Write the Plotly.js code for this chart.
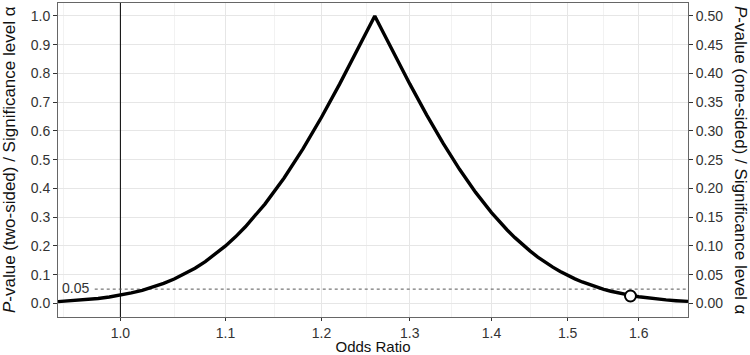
<!DOCTYPE html>
<html>
<head>
<meta charset="utf-8">
<script src="https://cdn.plot.ly/plotly-3.0.1.min.js"></script>
<style>
  html, body { margin: 0; padding: 0; background: #fff; }
  #chart { width: 750px; height: 355px; }
</style>
</head>
<body>
<div id="chart"></div>
<script>
'use strict';

// p-value function
const oddsRatio = [0.945, 0.96, 0.97, 0.98, 0.99, 1.00, 1.01, 1.02, 1.03, 1.04, 1.05, 1.06,
  1.07, 1.08, 1.09, 1.10, 1.11, 1.12, 1.14, 1.16, 1.18, 1.20, 1.22, 1.24, 1.25, 1.2594,
  1.27, 1.28, 1.30, 1.32, 1.34, 1.36, 1.38, 1.40, 1.41, 1.42, 1.43, 1.44, 1.45, 1.46,
  1.47, 1.48, 1.49, 1.50, 1.51, 1.52, 1.53, 1.54, 1.55, 1.56, 1.57, 1.58, 1.59, 1.60,
  1.61, 1.62, 1.63, 1.64, 1.655, 1.673];
const pTwoSided = [0.0065, 0.0102, 0.0134, 0.0175, 0.0227, 0.029, 0.0366, 0.0459, 0.0569,
  0.0699, 0.0851, 0.1027, 0.1227, 0.1457, 0.1713, 0.2002, 0.2318, 0.2668, 0.3457, 0.4364,
  0.5376, 0.6476, 0.7637, 0.8834, 0.9425, 1.0, 0.9375, 0.8776, 0.7636, 0.656, 0.5567,
  0.4666, 0.3863, 0.3161, 0.2848, 0.2556, 0.229, 0.2043, 0.182, 0.1615, 0.1431, 0.1263,
  0.1113, 0.0977, 0.0857, 0.0749, 0.0653, 0.0568, 0.0493, 0.0426, 0.0368, 0.0317,
  0.0273, 0.0234, 0.02, 0.0171, 0.0146, 0.0124, 0.0097, 0.0072];

const pointOR = [1.588];
const pointP = [0.026];

const alphaLevel = 0.05;
const nullOR = 1.0;

const xTicks = [1.0, 1.1, 1.2, 1.3, 1.4, 1.5, 1.6];
const xMinor = [0.95, 1.05, 1.15, 1.25, 1.35, 1.45, 1.55, 1.65];
const yTicks = [0, 0.1, 0.2, 0.3, 0.4, 0.5, 0.6, 0.7, 0.8, 0.9, 1.0];
const y2Ticks = [0, 0.05, 0.10, 0.15, 0.20, 0.25, 0.30, 0.35, 0.40, 0.45, 0.50];

const font = 'Liberation Sans, Arial, sans-serif';
const tickCol = '#333333';

const traces = [
  {
    x: [nullOR, nullOR], y: [-0.2, 1.2],
    mode: 'lines', line: {color: '#000', width: 1},
    hoverinfo: 'skip', showlegend: false
  },
  {
    x: [0.977, 1.8], y: [alphaLevel, alphaLevel],
    mode: 'lines', line: {color: '#555', width: 1, dash: '3px,3px'},
    hoverinfo: 'skip', showlegend: false
  },
  {
    x: oddsRatio, y: pTwoSided,
    mode: 'lines', line: {color: '#000', width: 3.4},
    showlegend: false
  },
  {
    x: pointOR, y: pointP,
    mode: 'markers',
    marker: {size: 11, color: '#fff', line: {color: '#000', width: 2}},
    showlegend: false
  },
  {
    // carries the right-hand axis
    x: pointOR, y: pointP.map(v => v / 2), yaxis: 'y2',
    mode: 'markers', marker: {opacity: 0}, hoverinfo: 'skip', showlegend: false
  }
];

const yRange = [-0.047, 1.045];

const layout = {
  width: 750,
  height: 355,
  margin: {l: 58, r: 62, t: 3, b: 38},
  paper_bgcolor: '#fff',
  plot_bgcolor: '#fff',
  font: {family: font, size: 14, color: tickCol},
  xaxis: {
    type: 'log',
    range: [Math.log10(0.945), Math.log10(1.673)],
    tickmode: 'array',
    tickvals: xTicks,
    ticktext: xTicks.map(v => v.toFixed(1)),
    ticks: 'outside', ticklen: 3, tickcolor: '#333', tickwidth: 1,
    showgrid: true, gridcolor: '#e6e6e6', gridwidth: 1,
    minor: {tickmode: 'array', tickvals: xMinor, showgrid: true, gridcolor: '#f2f2f2', gridwidth: 1, ticks: ''},
    showline: true, linecolor: '#666', linewidth: 1, mirror: true,
    zeroline: false,
    tickfont: {family: font, size: 14, color: tickCol},
    title: {text: 'Odds Ratio', font: {family: font, size: 15, color: '#111'}, standoff: 1}
  },
  yaxis: {
    range: yRange,
    tickmode: 'array',
    tickvals: yTicks,
    ticktext: yTicks.map(v => v.toFixed(1)),
    ticks: 'outside', ticklen: 4, tickcolor: '#333', tickwidth: 1,
    showgrid: true, gridcolor: '#e6e6e6', gridwidth: 1,
    showline: true, linecolor: '#666', linewidth: 1, mirror: true,
    zeroline: false,
    tickfont: {family: font, size: 14, color: tickCol}
  },
  yaxis2: {
    overlaying: 'y',
    side: 'right',
    range: [yRange[0] / 2, yRange[1] / 2],
    tickmode: 'array',
    tickvals: y2Ticks,
    ticktext: y2Ticks.map(v => v.toFixed(2)),
    ticks: 'outside', ticklen: 4, tickcolor: '#333', tickwidth: 1,
    showgrid: false, zeroline: false, showline: false,
    tickfont: {family: font, size: 14, color: tickCol}
  },
  annotations: [
    {
      xref: 'paper', yref: 'y', x: 0, y: alphaLevel,
      xanchor: 'left', yanchor: 'middle', xshift: 2, yshift: 1,
      text: '0.05', showarrow: false,
      font: {family: font, size: 14, color: tickCol}
    },
    {
      xref: 'paper', yref: 'paper', x: 0, y: 0.5,
      xanchor: 'center', yanchor: 'middle', xshift: -49,
      textangle: -90,
      text: '<i>P</i>-value (two-sided) / Significance level α',
      showarrow: false,
      font: {family: font, size: 17, color: '#111'}
    },
    {
      xref: 'paper', yref: 'paper', x: 1, y: 0.5,
      xanchor: 'center', yanchor: 'middle', xshift: 53,
      textangle: 90,
      text: '<i>P</i>-value (one-sided) / Significance level α',
      showarrow: false,
      font: {family: font, size: 17, color: '#111'}
    }
  ]
};

Plotly.newPlot('chart', traces, layout, {staticPlot: true, displayModeBar: false});
</script>
</body>
</html>
